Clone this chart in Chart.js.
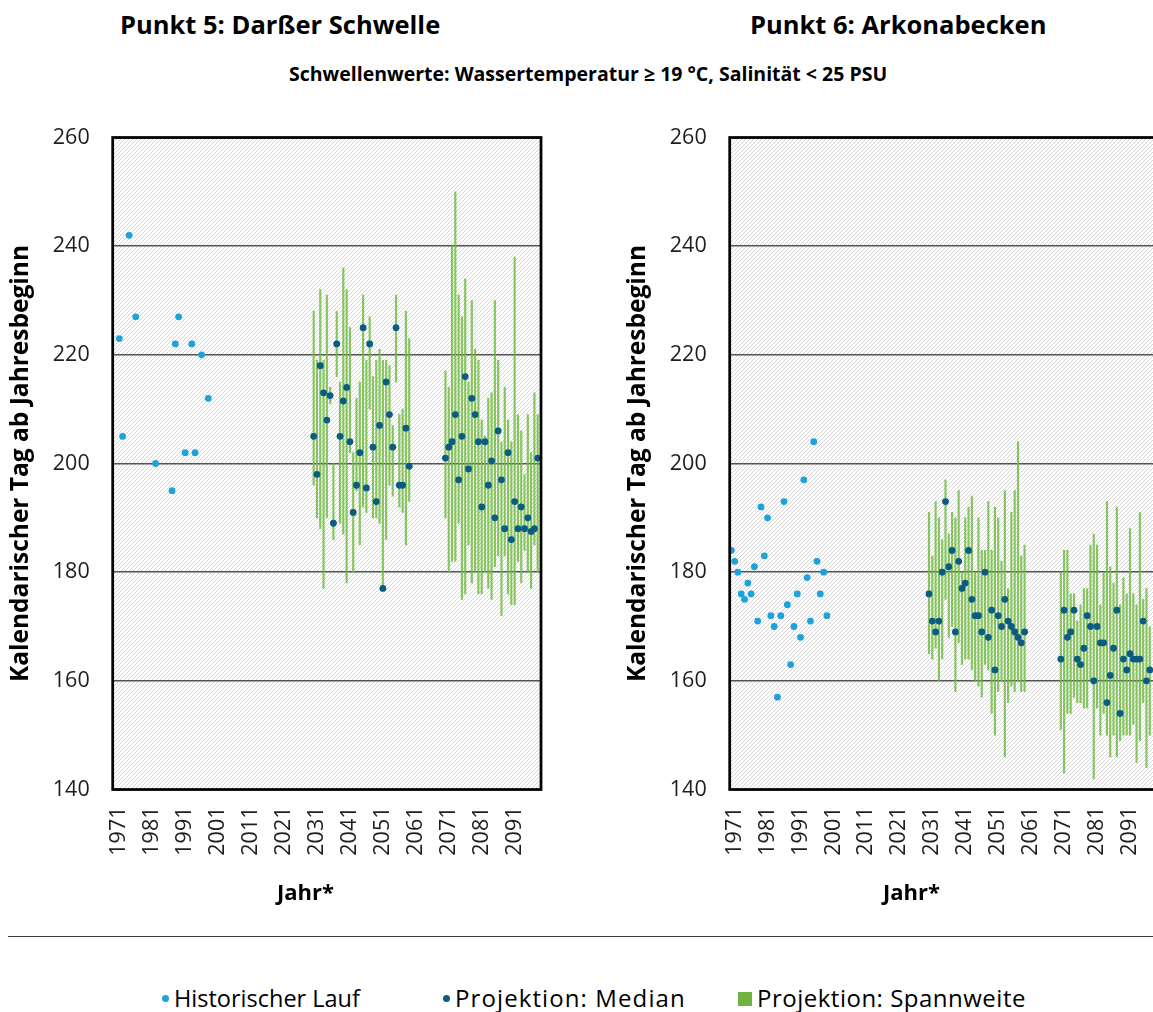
<!DOCTYPE html>
<html>
<head>
<meta charset="utf-8">
<script src="https://cdn.jsdelivr.net/npm/chart.js@4.4.0/dist/chart.umd.min.js"></script>
<style>
    html, body { margin: 0; padding: 0; overflow: hidden; }
    body { width: 1153px; height: 1012px; position: relative; background: #fff; font-family: 'Open Sans', sans-serif; color: #000; }
    .txt { position: absolute; white-space: nowrap; line-height: 1; }
    .title { font-weight: bold; font-size: 25.5px; }
    .sub { font-weight: bold; font-size: 19.5px; }
    .axis { font-weight: bold; font-size: 22px; }
    canvas { position: absolute; top: 0; }
    #rule { position: absolute; left: 8px; top: 936px; width: 1145px; height: 0; border-top: 1.5px solid #3a3a3a; }
    .leg { position: absolute; top: 984px; font-size: 23.5px; line-height: 28px; white-space: nowrap; }
    .dot { display: inline-block; width: 7px; height: 7px; border-radius: 50%; vertical-align: middle; margin-right: 5px; position: relative; top: -2px; }
    .sq { display: inline-block; width: 14px; height: 14px; vertical-align: middle; margin-right: 5px; position: relative; top: -2px; }
</style>
</head>
<body>
<div class="txt title" style="left:120px; top:12px;">Punkt 5: Darßer Schwelle</div>
<div class="txt title" style="left:750px; top:12px;">Punkt 6: Arkonabecken</div>
<div class="txt sub" style="left:289px; top:64px;">Schwellenwerte: Wassertemperatur ≥ 19 °C, Salinität &lt; 25 PSU</div>

<canvas id="chart5" width="560" height="880" style="left:0;"></canvas>
<canvas id="chart6" width="560" height="880" style="left:617px;"></canvas>

<div class="txt axis" style="left:277px; top:880px;">Jahr*</div>
<div class="txt axis" style="left:883px; top:880px;">Jahr*</div>

<div id="rule"></div>
<div class="leg" style="left:162px;"><span class="dot" style="background:#1ea2dc"></span>Historischer Lauf</div>
<div class="leg" style="left:443px; font-size:24px; letter-spacing:1.1px;"><span class="dot" style="background:#0c5b82"></span>Projektion: Median</div>
<div class="leg" style="left:738px; font-size:24px; letter-spacing:0.5px;"><span class="sq" style="background:#6db443"></span>Projektion: Spannweite</div>

<script>
// ===== DATA: Punkt 5 (Darßer Schwelle) =====
const histYears5 = [1972, 1973, 1975, 1977, 1983, 1988, 1989, 1990, 1992, 1994, 1995, 1997, 1999];
const histValues5 = [223, 205, 242, 227, 200, 195, 222, 227, 202, 222, 202, 220, 212];

const projYears5 = [
    2031, 2032, 2033, 2034, 2035, 2036, 2037, 2038, 2039, 2040,
    2041, 2042, 2043, 2044, 2045, 2046, 2047, 2048, 2049, 2050,
    2051, 2052, 2053, 2054, 2055, 2056, 2057, 2058, 2059, 2060,
    2071, 2072, 2073, 2074, 2075, 2076, 2077, 2078, 2079, 2080,
    2081, 2082, 2083, 2084, 2085, 2086, 2087, 2088, 2089, 2090,
    2091, 2092, 2093, 2094, 2095, 2096, 2097, 2098, 2099
];
const median5 = [
    205, 198, 218, 213, 208, 212.5, 189, 222, 205, 211.5,
    214, 204, 191, 196, 202, 225, 195.5, 222, 203, 193,
    207, 177, 215, 209, 203, 225, 196, 196, 206.5, 199.5,
    201, 203, 204, 209, 197, 205, 216, 199, 212, 209,
    204, 192, 204, 196, 200.5, 190, 206, 197, 188, 202,
    186, 193, 188, 192, 188, 190, 187.5, 188, 201
];
const rangeLow5 = [
    196, 190, 188, 177, 190, 211, 186, 216, 189, 187,
    178, 202, 180, 195, 185, 192, 191, 210, 190, 190,
    189, 177, 186, 196, 194, 215, 192, 191, 185, 193,
    190, 180, 182, 182, 189, 175, 176, 185, 178, 180,
    176, 176, 180, 177, 175, 181, 183, 172, 183, 176,
    174, 174, 182, 178, 184, 180, 177, 185, 180
];
const rangeHigh5 = [
    228, 219, 232, 219, 231, 214, 200, 228, 215, 236,
    232, 225, 202, 212, 215, 231, 219, 227, 216, 219,
    221, 219, 219, 218, 207, 231, 209, 210, 228, 223,
    217, 214, 240, 250, 231, 227, 234, 215, 230, 221,
    219, 208, 205, 212, 213, 230, 219, 204, 214, 208,
    204, 238, 209, 206, 198, 209, 202, 213, 209
];

// ===== DATA: Punkt 6 (Arkonabecken) =====
const histYears6 = [
    1971, 1972, 1973, 1974, 1975, 1976, 1977, 1978, 1979, 1980,
    1981, 1982, 1983, 1984, 1985, 1986, 1987, 1988, 1989, 1990,
    1991, 1992, 1993, 1994, 1995, 1996, 1997, 1998, 1999, 2000
];
const histValues6 = [
    184, 182, 180, 176, 175, 178, 176, 181, 171, 192,
    183, 190, 172, 170, 157, 172, 193, 174, 163, 170,
    176, 168, 197, 179, 171, 204, 182, 176, 180, 172
];

const projYears6 = [
    2031, 2032, 2033, 2034, 2035, 2036, 2037, 2038, 2039, 2040,
    2041, 2042, 2043, 2044, 2045, 2046, 2047, 2048, 2049, 2050,
    2051, 2052, 2053, 2054, 2055, 2056, 2057, 2058, 2059, 2060,
    2071, 2072, 2073, 2074, 2075, 2076, 2077, 2078, 2079, 2080,
    2081, 2082, 2083, 2084, 2085, 2086, 2087, 2088, 2089, 2090,
    2091, 2092, 2093, 2094, 2095, 2096, 2097, 2098
];
const median6 = [
    176, 171, 169, 171, 180, 193, 181, 184, 169, 182,
    177, 178, 184, 175, 172, 172, 169, 180, 168, 173,
    162, 172, 170, 175, 171, 170, 169, 168, 167, 169,
    164, 173, 168, 169, 173, 164, 163, 166, 172, 170,
    160, 170, 167, 167, 156, 161, 166, 173, 154, 164,
    162, 165, 164, 164, 164, 171, 160, 162
];
const rangeLow6 = [
    165, 164, 166, 160, 164, 175, 168, 170, 158, 167,
    163, 164, 164, 162, 160, 159, 157, 163, 162, 154,
    150, 158, 160, 146, 156, 159, 158, 160, 158, 158,
    151, 143, 154, 154, 157, 156, 156, 155, 155, 160,
    142, 155, 150, 154, 150, 146, 150, 146, 149, 150,
    150, 150, 152, 145, 149, 156, 144, 150
];
const rangeHigh6 = [
    191, 183, 193, 190, 186, 197, 187, 191, 190, 195,
    180, 190, 192, 194, 180, 190, 184, 184, 193, 184,
    192, 190, 182, 195, 177, 191, 195, 204, 183, 185,
    180, 184, 184, 176, 176, 171, 174, 177, 177, 185,
    187, 185, 174, 180, 193, 181, 178, 192, 174, 179,
    176, 188, 176, 174, 191, 175, 177, 170
];

const yTicks = [140, 160, 180, 200, 220, 240, 260];
const xTickYears = [1971, 1981, 1991, 2001, 2011, 2021, 2031, 2041, 2051, 2061, 2071, 2081, 2091];

// ===== STYLE =====
const colors = {
    hist: '#1ea2dc',
    median: '#0c5b82',
    range: 'rgba(110, 186, 62, 0.82)',
    grid: '#555555',
    text: '#1e1e1e',
};
const tickFont = { family: "'Open Sans', sans-serif", size: 21.5 };

function makeHatch() {
    const c = document.createElement('canvas');
    c.width = 4; c.height = 4;
    const g = c.getContext('2d');
    g.fillStyle = '#fff';
    g.fillRect(0, 0, 4, 4);
    g.strokeStyle = '#d0d0d0';
    g.lineWidth = 0.9;
    g.beginPath();
    g.moveTo(0, 4); g.lineTo(4, 0);
    g.moveTo(-1, 1); g.lineTo(1, -1);
    g.moveTo(3, 5); g.lineTo(5, 3);
    g.stroke();
    return c;
}

const plotFrame = {
    id: 'plotFrame',
    beforeDraw(chart) {
        const { ctx, chartArea: a } = chart;
        ctx.save();
        ctx.fillStyle = ctx.createPattern(makeHatch(), 'repeat');
        ctx.fillRect(a.left, a.top, a.right - a.left, a.bottom - a.top);
        ctx.restore();
    },
    afterDraw(chart) {
        const { ctx, chartArea: a } = chart;
        ctx.save();
        ctx.strokeStyle = '#000';
        ctx.lineWidth = 2.75;
        ctx.strokeRect(a.left, a.top, a.right - a.left, a.bottom - a.top);
        ctx.restore();
    }
};

function renderPanel(id, xMin, histYears, histValues, projYears, median, low, high) {
    const ctx = document.getElementById(id).getContext('2d');
    return new Chart(ctx, {
        type: 'bar',
        data: {
            datasets: [
                {
                    type: 'scatter',
                    label: 'Historischer Lauf',
                    data: histYears.map((y, i) => ({ x: y, y: histValues[i] })),
                    backgroundColor: colors.hist,
                    borderWidth: 0,
                    pointRadius: 3.4,
                    order: 0,
                },
                {
                    type: 'scatter',
                    label: 'Projektion: Median',
                    data: projYears.map((y, i) => ({ x: y, y: median[i] })),
                    backgroundColor: colors.median,
                    borderWidth: 0,
                    pointRadius: 3.4,
                    order: 1,
                },
                {
                    type: 'bar',
                    label: 'Projektion: Spannweite',
                    data: projYears.map((y, i) => ({ x: y, y: [low[i], high[i]] })),
                    backgroundColor: colors.range,
                    borderWidth: 0,
                    barThickness: 1.5,
                    grouped: false,
                    order: 2,
                },
            ]
        },
        options: {
            responsive: false,
            animation: false,
            layout: { padding: { top: 137.5, right: 19, left: 0, bottom: 0 } },
            plugins: { legend: { display: false }, tooltip: { enabled: false } },
            scales: {
                x: {
                    type: 'linear',
                    offset: false,
                    min: xMin,
                    max: xMin + 130,
                    grid: { display: false, drawTicks: false },
                    border: { display: false },
                    afterBuildTicks: s => { s.ticks = xTickYears.map(v => ({ value: v })); },
                    afterFit: s => { s.height = 90.5; },
                    ticks: {
                        autoSkip: false,
                        minRotation: 90,
                        maxRotation: 90,
                        padding: 17,
                        labelOffset: 3.2,
                        color: colors.text,
                        font: tickFont,
                        callback: v => String(v),
                    }
                },
                y: {
                    min: 140,
                    max: 260,
                    afterBuildTicks: s => { s.ticks = yTicks.map(v => ({ value: v })); },
                    afterFit: s => { s.width = 112.7; },
                    grid: { color: colors.grid, lineWidth: 1.5, drawTicks: false },
                    border: { display: false },
                    ticks: { padding: 23, color: colors.text, font: tickFont },
                    title: {
                        display: true,
                        text: 'Kalendarischer Tag ab Jahresbeginn',
                        color: '#000',
                        font: { family: "'Open Sans', sans-serif", size: 24.5, weight: 'bold' },
                        padding: { top: 6, bottom: 0 },
                    }
                }
            }
        },
        plugins: [plotFrame]
    });
}

renderPanel('chart5', 1970.0, histYears5, histValues5, projYears5, median5, rangeLow5, rangeHigh5);
renderPanel('chart6', 1970.5, histYears6, histValues6, projYears6, median6, rangeLow6, rangeHigh6);
</script>
</body>
</html>
